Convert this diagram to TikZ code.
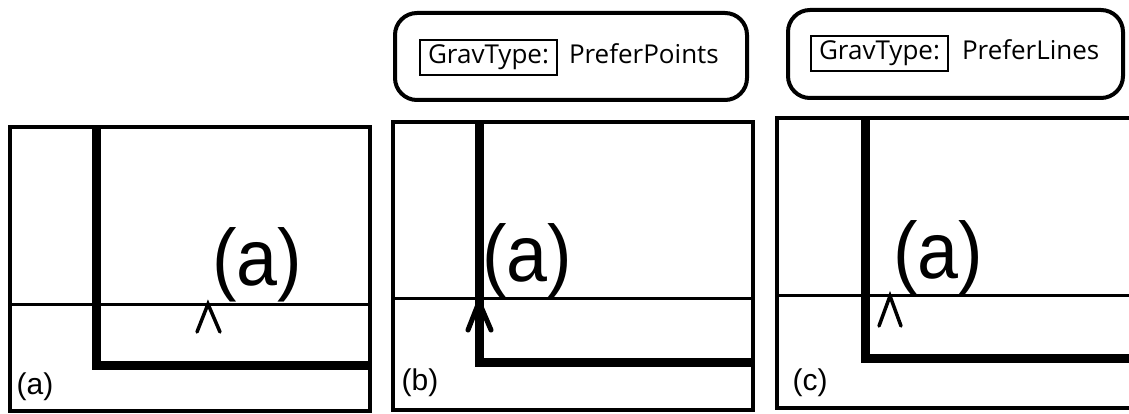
\documentclass[tikz,border=0pt]{standalone}
\usepackage{fontspec}
\setmainfont{Liberation Sans}
\newfontfamily\btnfont{Open Sans}
\usetikzlibrary{positioning}

\begin{document}
\begin{tikzpicture}[x=1pt, y=-1pt,
  frame/.style={draw, line width=4.5pt},
  thinrule/.style={line width=3pt},
  gravline/.style={line width=9pt},
  caret/.style={line width=3.5pt, line cap=round},
  biglabel/.style={inner sep=0pt, xscale=0.92, font=\fontsize{80}{80}\selectfont},
  tag/.style={inner sep=0pt, font=\fontsize{30}{30}\selectfont},
  button/.style={draw, line width=4pt, rounded corners=22pt, inner sep=0pt},
  keybox/.style={draw, line width=1.6pt, inner sep=0pt, minimum width=137pt, minimum height=35pt, font=\btnfont\fontsize{26}{26}\selectfont},
  valtext/.style={inner sep=0pt, anchor=base west, font=\btnfont\fontsize{26}{26}\selectfont}
]
  \useasboundingbox (0,0) rectangle (1129,414);

  % panel (a)
  \draw[thinrule] (10,304) -- (370,304);
  \draw[gravline] (96,127) -- (96,365) -- (370,365);
  \draw[frame] (10,127) rectangle (370,411);
  \node[biglabel] (pta) at (257,265) {(a)};
  \draw[caret] (197,332) -- (208,304) -- (220,332);
  \node[tag] (taga) at (35,387) {(a)};

  % panel (b)
  \node[button, minimum width=352pt, minimum height=87pt] (btnb) at (571,56.5) {};
  \node[keybox] (keyb) at (488.5,57.5) {GravType:};
  \node[valtext] (valb) at ([xshift=11pt]keyb.base east) {PreferPoints};
  \draw[thinrule] (393,298) -- (753,298);
  \draw[gravline] (479,122) -- (479,362) -- (753,362);
  \draw[frame] (393,122) rectangle (753,410);
  \node[biglabel] (ptb) at (527,261) {(a)};
  \draw[caret, line width=5pt] (468,330) -- (479,302) -- (491,330);
  \node[tag] (tagb) at (420,383) {(b)};

  % panel (c)
  \node[button, minimum width=335pt, minimum height=88pt] (btnc) at (955.5,54) {};
  \node[keybox] (keyc) at (879.5,53.5) {GravType:};
  \node[valtext] (valc) at ([xshift=13pt]keyc.base east) {PreferLines};
  \draw[thinrule] (777,295) -- (1129,295);
  \draw[gravline] (865,118) -- (865,358) -- (1129,358);
  \draw[frame] (1129,118) -- (777,118) -- (777,408) -- (1129,408);
  \node[biglabel] (ptc) at (938,258) {(a)};
  \draw[caret] (879,326) -- (890,296) -- (901,326);
  \node[tag] (tagc) at (810,383) {(c)};
\end{tikzpicture}
\end{document}
